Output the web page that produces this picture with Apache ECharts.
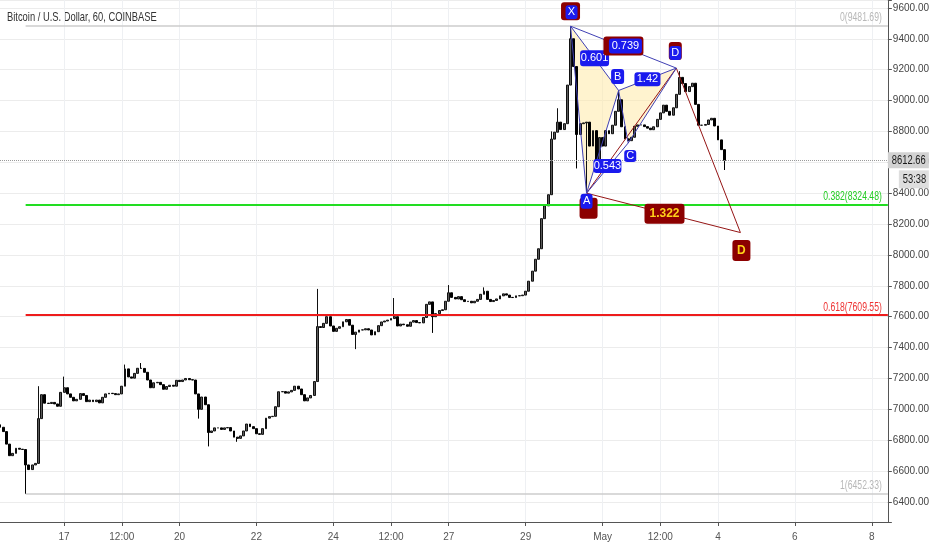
<!DOCTYPE html>
<html>
<head>
<meta charset="utf-8">
<title>BTCUSD 60</title>
<script src="https://cdn.jsdelivr.net/npm/echarts@6/dist/echarts.min.js"></script>
<style>
html, body { margin: 0; padding: 0; background: #fff; }
#chart { width: 932px; height: 550px; }
</style>
</head>
<body>
<div id="chart"></div>
<script>
// 2-hour bars, bar 0 = Apr 15 08:00
var closes = [
  6884,6856,6775,6700,6715,6748,6742,6740,6640,6610,
  6640,6650,6940,7095,7040,7038,7045,7035,7020,7110,
  7140,7100,7078,7055,7065,7102,7090,7050,7060,7050,
  7060,7042,7078,7100,7104,7102,7095,7100,7150,7262,
  7210,7202,7233,7266,7265,7240,7190,7140,7172,7175,
  7160,7130,7148,7156,7150,7188,7180,7190,7200,7192,
  7190,7100,7000,7080,7030,6850,6860,6880,6880,6870,
  6880,6882,6860,6820,6812,6828,6860,6905,6888,6875,
  6842,6838,6875,6943,6953,6955,7017,7114,7115,7105,
  7113,7123,7150,7132,7095,7055,7074,7090,7180,7536,
  7530,7557,7600,7540,7505,7525,7535,7567,7582,7545,
  7485,7500,7514,7515,7522,7514,7482,7503,7542,7566,
  7572,7578,7588,7600,7540,7552,7548,7538,7565,7575,
  7562,7560,7595,7680,7696,7600,7620,7640,7645,7700,
  7755,7725,7715,7730,7710,7698,7700,7690,7700,7712,
  7745,7765,7712,7698,7705,7715,7735,7748,7740,7725,
  7724,7735,7736,7740,7765,7830,7895,7972,8040,8235,
  8318,8390,8750,8795,8860,8812,8850,9100,9400,9220,
  8780,8850,8855,8860,8705,8805,8615,8760,8705,8805,
  8785,8840,8930,9005,8830,8752,8740,8762,8833,8842,
  8842,8831,8821,8811,8830,8878,8920,8970,8930,8905,
  8953,9040,9150,9110,9058,9090,9112,8975,8840,8840,
  8845,8874,8885,8835,8745,8682,8612.66
];
var firstOpen = 6900;
// long wicks: [bar, low, high]
var wicks = [
  [8, 6452.33, null], [12, null, 7150], [20, null, 7212], [39, null, 7290],
  [44, null, 7300], [62, 6940, null], [65, 6760, null], [74, 6790, null],
  [99, null, 7780], [111, 7390, null], [123, null, 7721], [135, 7495, null],
  [140, null, 7805], [151, null, 7790], [172, null, 8800], [174, null, 8950],
  [178, null, 9481.69], [180, 8560, null], [183, 8410, null], [186, 8560, null],
  [193, null, 9065], [212, null, 9190], [226, 8550, null]
];
var barCount = 278;
var tickIdx = [20, 38, 56, 80, 104, 122, 140, 164, 188, 206, 224, 248, 272];
var tickText = ['17', '12:00', '20', '22', '24', '12:00', '27', '29', 'May', '12:00', '4', '6', '8'];

// fib retracement from the low to the high
var fibStart = 8;
var fibRatio = ['0', '0.382', '0.618', '1'];
var fibPrice = [9481.69, 8324.48, 7609.55, 6452.33];
var fibColor = ['#cccccc', '#22dd22', '#ee1c1c', '#cccccc'];
var fibText = ['#b8b8b8', '#22cc22', '#ee3333', '#b8b8b8'];
var lastPrice = 8612.66;
var countdown = '53:38';

// harmonic pattern X A B C D and projected D
var patIdx = [178, 183, 193, 196, 211];
var patPrice = [9481.69, 8400, 9065, 8725, 9210];
var projIdx = 231, projPrice = 8145;
var ratioXB = '0.601', ratioAC = '0.543', ratioBD = '1.42', ratioXD = '0.739', ratioAD = '1.322';

var FONT = '"Liberation Sans", Arial, sans-serif';
var BLUE = '#1a1aee', DARKRED = '#8c0000', PATLINE = '#4040b4', REDLINE = '#951515';

function buildCandles() {
  var out = [];
  for (var i = 0; i < closes.length; i++) {
    var o = i ? closes[i - 1] : firstOpen, c = closes[i];
    out.push([o, c, Math.min(o, c), Math.max(o, c)]);
  }
  wicks.forEach(function (w) {
    if (w[1] != null) out[w[0]][2] = w[1];
    if (w[2] != null) out[w[0]][3] = w[2];
  });
  return out;
}

function buildCats() {
  var cats = [], t0 = Date.UTC(2018, 3, 15, 8);
  for (var i = 0; i < barCount; i++) {
    var d = new Date(t0 + i * 7200000);
    cats.push((d.getUTCMonth() + 1) + '-' + d.getUTCDate() + ' ' + d.getUTCHours() + ':00');
  }
  return cats;
}

function isTick(idx) { return tickIdx.indexOf(idx) >= 0; }

// rounded label box with centred text
function box(cx, cy, w, h, fill, text, color, font) {
  var items = [{
    type: 'rect',
    shape: { x: cx - w / 2, y: cy - h / 2, width: w, height: h, r: 3 },
    style: { fill: fill }
  }];
  if (text) {
    items.push({
      type: 'text',
      style: { text: text, x: cx, y: cy, align: 'center', verticalAlign: 'middle', fill: color, font: font || '11px ' + FONT }
    });
  }
  return items;
}

// squeezed text, TradingView uses a condensed face
function slim(x, y, text, color, align, vAlign, size, sx) {
  return {
    type: 'text', x: x, y: y, scaleX: sx || 0.78,
    style: { text: text, x: 0, y: 0, align: align, verticalAlign: vAlign, fill: color, font: (size || 11) + 'px ' + FONT }
  };
}

function mid(a, b) { return [(a[0] + b[0]) / 2, (a[1] + b[1]) / 2]; }

function seg(a, b, color) {
  return { type: 'line', shape: { x1: a[0], y1: a[1], x2: b[0], y2: b[1] }, style: { stroke: color, lineWidth: 1 } };
}

function patternPoints(api) {
  return patIdx.map(function (x, k) { return api.coord([x, patPrice[k]]); });
}

// yellow triangles go under the candles
function renderFill(params, api) {
  var P = patternPoints(api);
  return {
    type: 'group',
    children: [
      { type: 'polygon', shape: { points: [P[0], P[1], P[2]] }, style: { fill: 'rgba(255,232,160,0.5)' } },
      { type: 'polygon', shape: { points: [P[2], P[3], P[4]] }, style: { fill: 'rgba(255,232,160,0.5)' } }
    ]
  };
}

function renderOverlay(params, api) {
  var cs = params.coordSys;
  var right = cs.x + cs.width;
  var P = patternPoints(api);
  var X = P[0], A = P[1], B = P[2], C = P[3], D = P[4];
  var D2 = api.coord([projIdx, projPrice]);
  var kids = [
    seg(A, D, REDLINE), seg(A, D2, REDLINE), seg(D, D2, REDLINE),
    seg(X, A, PATLINE), seg(A, B, PATLINE), seg(B, C, PATLINE), seg(C, D, PATLINE),
    seg(X, B, PATLINE), seg(A, C, PATLINE), seg(B, D, PATLINE), seg(X, D, PATLINE)
  ];
  var mXB = mid(X, B), mXD = mid(X, D), mBD = mid(B, D), mAC = mid(A, C), mAD = mid(A, D2);
  var bold = 'bold 12px ' + FONT;
  kids = kids.concat(
    box(X[0], X[1] - 15, 19, 18, DARKRED),
    box(X[0] + 1, X[1] - 14, 12, 14, BLUE, 'X', '#fff'),
    box(A[0] + 2, A[1] + 15, 18, 21, DARKRED),
    box(A[0], A[1] + 8, 12, 15, BLUE, 'A', '#fff'),
    box(mXB[0], mXB[1], 29, 16, BLUE, ratioXB, '#fff'),
    box(mXD[0], mXD[1] - 1, 40, 19, DARKRED),
    box(mXD[0] + 2, mXD[1] - 1, 33, 15, BLUE, ratioXD, '#fff'),
    box(B[0] - 1, B[1] - 14, 13, 15, BLUE, 'B', '#fff'),
    box(mBD[0], mBD[1], 26, 14, BLUE, ratioBD, '#fff'),
    box(D[0] - 1, D[1] - 17, 13, 18, DARKRED),
    box(D[0] - 1, D[1] - 15, 12, 14, BLUE, 'D', '#fff'),
    box(C[0] + 2, C[1] + 13, 12, 12, BLUE, 'C', '#fff'),
    box(mAC[0], mAC[1] - 2, 28, 14, BLUE, ratioAC, '#fff'),
    box(mAD[0] + 1, mAD[1] + 1, 40, 20, DARKRED, ratioAD, '#ffd21a', bold),
    box(D2[0] + 1, D2[1] + 18, 18, 21, DARKRED, 'D', '#ffd21a', bold)
  );
  // fib level captions
  fibPrice.forEach(function (p, k) {
    var y = api.coord([0, p])[1];
    kids.push(slim(right - 6, y - 2, fibRatio[k] + '(' + p.toFixed(2) + ')', fibText[k], 'right', 'bottom', 12, 0.72));
  });
  // last price tag and bar countdown on the price scale
  var ly = api.coord([0, lastPrice])[1];
  kids.push({ type: 'rect', shape: { x: right, y: ly - 8, width: 41, height: 16 }, style: { fill: '#d2d2d2' } });
  kids.push(slim(right + 4, ly, lastPrice.toFixed(2), '#1a1a1a', 'left', 'middle', 12));
  kids.push({ type: 'rect', shape: { x: right + 11, y: ly + 10, width: 30, height: 18 }, style: { fill: '#dedede' } });
  kids.push(slim(right + 15, ly + 19, countdown, '#1a1a1a', 'left', 'middle', 12));
  return { type: 'group', children: kids };
}

function fibLines() {
  return fibPrice.map(function (p, k) {
    return [
      { coord: [fibStart, p], lineStyle: { color: fibColor[k], width: (k === 1 || k === 2) ? 2 : 1.5, type: 'solid' } },
      { coord: [barCount - 1, p] }
    ];
  });
}

var chart = echarts.init(document.getElementById('chart'), null, { renderer: 'canvas' });

chart.setOption({
  animation: false,
  backgroundColor: '#ffffff',
  grid: { left: 0, right: 41, top: 0, bottom: 28 },
  xAxis: {
    type: 'category',
    data: buildCats(),
    boundaryGap: false,
    axisLine: { lineStyle: { color: '#555', width: 1 } },
    axisTick: { show: true, interval: isTick, length: 4, lineStyle: { color: '#555' } },
    axisLabel: {
      interval: isTick, margin: 10, color: '#555', fontSize: 10, fontFamily: FONT,
      formatter: function (v, idx) { var k = tickIdx.indexOf(idx); return k < 0 ? '' : tickText[k]; }
    },
    splitLine: { show: true, interval: isTick, lineStyle: { color: '#eef0f3' } }
  },
  yAxis: {
    type: 'value',
    position: 'right',
    min: 6270.5,
    max: 9651,
    splitNumber: 17,
    axisLine: { show: true, lineStyle: { color: '#555' } },
    axisTick: { show: true, length: 4, lineStyle: { color: '#555' } },
    axisLabel: {
      margin: 5, color: '#444', fontSize: 10, fontFamily: FONT,
      formatter: function (v) { return Math.abs(v % 200) < 1e-6 ? v.toFixed(2) : ''; }
    },
    splitLine: { lineStyle: { color: '#ececec' } }
  },
  series: [
    {
      type: 'custom',
      data: [[patIdx[0], patPrice[0]]],
      encode: { x: 0, y: 1 },
      silent: true,
      z: 1,
      renderItem: renderFill
    },
    {
      type: 'candlestick',
      data: buildCandles(),
      barWidth: 2.4,
      z: 3,
      itemStyle: { color: '#5a5a5a', color0: '#000000', borderColor: '#111111', borderColor0: '#000000', borderWidth: 1 },
      markLine: {
        silent: true,
        symbol: ['none', 'none'],
        label: { show: false },
        data: fibLines().concat([
          { yAxis: lastPrice, lineStyle: { color: '#9a9a9a', type: 'dotted', width: 1 } }
        ])
      }
    },
    {
      type: 'custom',
      data: [[patIdx[0], patPrice[0]]],
      encode: { x: 0, y: 1 },
      silent: true,
      clip: false,
      z: 5,
      renderItem: renderOverlay
    }
  ],
  graphic: [
    {
      type: 'text', left: 7, top: 11, scaleX: 0.72,
      style: { text: 'Bitcoin / U.S. Dollar, 60, COINBASE', fill: '#333', font: '13px ' + FONT }
    }
  ]
});
</script>
</body>
</html>
